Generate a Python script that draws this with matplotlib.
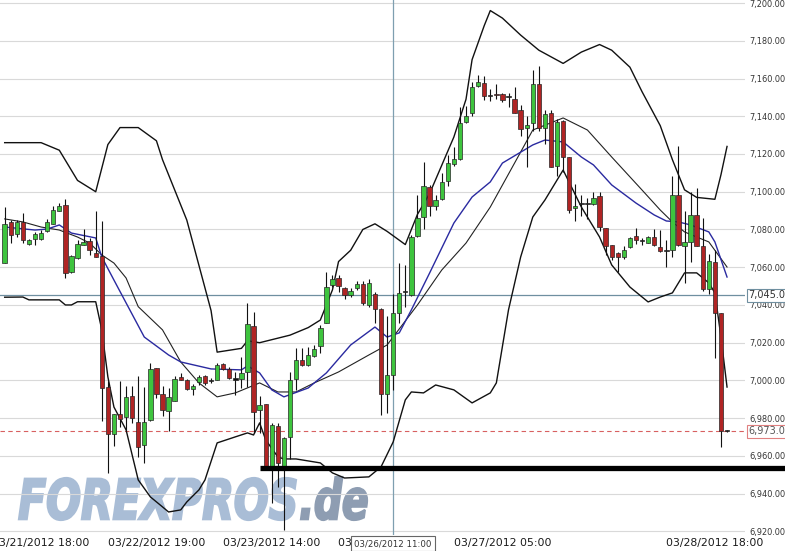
import numpy as np
import matplotlib
matplotlib.use("Agg")
import matplotlib.pyplot as plt
from matplotlib.textpath import TextPath
from matplotlib.patches import PathPatch
from matplotlib.font_manager import FontProperties
from matplotlib.transforms import Affine2D

# hourly candles (index 0..119)
opens = [7062, 7084, 7077.5, 7084, 7072.5, 7075, 7075, 7079, 7083, 7090,
         7093, 7057.5, 7065, 7072, 7074, 7067.5, 7066, 6996.5, 6971.5, 6982,
         6980.5, 6991.5, 6978, 6966, 6979, 7006.5, 6993, 6984, 6989, 7002,
         7000.5, 6995.5, 6999, 7002.5, 6999.5, 7000, 7008.5, 7006, 7000.5, 7001,
         7004.5, 7029, 6984.5, 6987.5, 6954.5, 6976, 6954.5, 6970, 7001, 7011,
         7008, 7013, 7018, 7030.5, 7050.5, 7054.5, 7049, 7045.5, 7049, 7051,
         7040, 7046, 7038, 6993, 7003, 7036, 7047, 7045.5, 7076.5, 7086.5,
         7102.5, 7092.5, 7096, 7105.5, 7114.5, 7117.5, 7137, 7141.5, 7156, 7157.5,
         7150.5, 7151.5, 7152, 7150, 7149, 7143.5, 7134, 7136.5, 7157, 7134,
         7141.5, 7113.5, 7137.5, 7118.5, 7091.5, 7093.5, 7093.5, 7093.5, 7097.5, 7081,
         7072, 7067.5, 7065.5, 7070.5, 7076.5, 7074, 7073, 7076, 7070.5, 7068.5,
         7069, 7098.5, 7071, 7073.5, 7087.5, 7071, 7048.5, 7062.5, 7035.5, 6973]
highs = [7092, 7085, 7085, 7088.5, 7075, 7078.5, 7079.5, 7085.5, 7092.5, 7094,
         7096, 7066.5, 7074.5, 7080, 7075.5, 7090, 7084.5, 6999.5, 6982, 6999.5,
         6997, 6997, 7002.5, 6996.5, 7009.5, 7006.5, 6997, 6996, 7002.5, 7004,
         7001, 6998, 7003, 7003, 7001.5, 7009, 7009, 7007, 7004.5, 7012.5,
         7041, 7036.5, 6991.5, 6987.5, 6977.5, 6977.5, 6970, 7004.5, 7017, 7017,
         7017.5, 7019, 7029.5, 7057.5, 7056, 7056, 7049.5, 7049, 7052.5, 7052.5,
         7054, 7047, 7038.5, 7034, 7046, 7062, 7061, 7077, 7098.5, 7116,
         7103.5, 7098.5, 7110, 7119.5, 7123.5, 7145, 7145.5, 7158, 7162, 7161.5,
         7154.5, 7157, 7152.5, 7152.5, 7155.5, 7146, 7140, 7164.5, 7166.5, 7143.5,
         7143.5, 7138.5, 7138, 7118.5, 7104, 7098.5, 7096.5, 7100, 7100, 7081,
         7072, 7068, 7071, 7076, 7081, 7075.5, 7076.5, 7080.5, 7079.5, 7074.5,
         7108.5, 7124, 7090, 7100, 7102, 7086, 7067, 7069, 7035.5, 6973.5]
lows = [7062, 7073, 7076, 7073, 7072, 7072, 7074.5, 7078.5, 7083, 7090,
        7054.5, 7057, 7064.5, 7072, 7066.5, 7065.5, 6978.5, 6951, 6965.5, 6975.5,
        6973, 6977.5, 6959.5, 6956, 6978.5, 6990.5, 6981, 6973, 6989, 7000,
        6995, 6992.5, 6997.5, 6997.5, 6998.5, 7000, 7005.5, 7001, 6992.5, 6996,
        6996.5, 6972, 6972, 6953, 6935, 6943.5, 6921, 6958.5, 6995, 7007.5,
        7007.5, 7012.5, 7014.5, 7030.5, 7049.5, 7047, 7043, 7044, 7048, 7040,
        7039, 7030.5, 6981.5, 6982.5, 6995, 7030.5, 7039, 7044.5, 7076, 7080.5,
        7087, 7090.5, 7095.5, 7103, 7113.5, 7117, 7136.5, 7140, 7155.5, 7148.5,
        7148, 7149, 7147.5, 7145, 7141.5, 7129.5, 7113, 7132, 7132, 7125.5,
        7113, 7108.5, 7110.5, 7088.5, 7084.5, 7087, 7085.5, 7093, 7079, 7066.5,
        7064, 7057.5, 7064.5, 7070, 7072.5, 7072, 7073, 7071.5, 7068, 7060,
        7065.5, 7071, 7051.5, 7063, 7071, 7047.5, 7046, 7012, 6964.5, 6972.5]
closes = [7083, 7077, 7084, 7074.5, 7074.5, 7077.5, 7078, 7084, 7090.5, 7092.5,
          7057, 7066, 7072.5, 7073.5, 7069, 7065.5, 6996, 6971.5, 6982, 6979.5,
          6991, 6980, 6964.5, 6978, 7006, 6993, 6984.5, 6991, 7001, 7000.5,
          6995.5, 6997, 7002, 6998.5, 6999.5, 7008, 7006, 7001.5, 7000.5, 7004,
          7030, 6983.5, 6987, 6954.5, 6976.5, 6956, 6969.5, 7000, 7011, 7008,
          7013.5, 7016.5, 7028, 7049.5, 7054, 7050, 7045.5, 7047.5, 7051, 7041,
          7051.5, 7038, 6993, 7003, 7036, 7046.5, 7047, 7076, 7086, 7103,
          7092.5, 7095.5, 7105, 7115, 7117.5, 7136.5, 7140, 7155.5, 7158, 7150.5,
          7150.5, 7151, 7148.5, 7150, 7141.5, 7133.5, 7135.5, 7157, 7134, 7141,
          7113, 7137, 7118.5, 7090.5, 7092.5, 7093.5, 7093.5, 7096.5, 7081.5, 7071,
          7065.5, 7065.5, 7069, 7075.5, 7074.5, 7074, 7076, 7072, 7068.5, 7068.5,
          7098.5, 7072, 7073.5, 7087.5, 7071, 7048.5, 7063.5, 7036, 6973, 6973]

# bollinger bands and averages, read at candle indices
upper_idx = [0, 6, 9, 12, 15, 17, 19, 22, 25, 26, 28, 30, 32, 34, 35, 39, 40, 42, 47, 50,
             52, 54, 55, 57, 59, 61, 63, 66, 68, 70, 72, 74, 76, 77, 79, 80, 82, 85, 88, 92,
             95, 98, 100, 103, 105, 108, 110, 112, 114, 117, 118, 119]
upper_val = [7126, 7126, 7122, 7106, 7100, 7125, 7134, 7134, 7127, 7117, 7101, 7085, 7061, 7037, 7015, 7017, 7021, 7020, 7024, 7028,
             7032, 7048, 7063, 7069, 7080, 7083, 7079, 7072, 7088, 7099, 7114, 7129, 7149, 7170, 7188, 7196, 7192, 7183, 7175, 7168,
             7174, 7178, 7175, 7166, 7153, 7135, 7117, 7101, 7097, 7096, 7109, 7124]

lower_idx = [0, 3, 4, 9, 10, 11, 12, 15, 16, 17, 18, 20, 22, 24, 26, 27, 29, 30, 32, 33,
             35, 38, 40, 41, 42, 43, 45, 46, 48, 52, 54, 56, 60, 62, 64, 66, 67, 69, 71, 74,
             77, 80, 81, 83, 85, 87, 89, 92, 95, 98, 100, 103, 106, 108, 110, 112, 114, 116, 117, 118, 119]
lower_val = [7044.1, 7044.2, 7042.7, 7042.7, 7040.0, 7040.0, 7041.7, 7041.7, 7026.8, 7001.9,
             6985.9, 6973.8, 6947.3, 6938.3, 6933.0, 6930.3, 6931.4, 6935.6, 6942.0, 6947.3,
             6966.9, 6970.1, 6972.2, 6971.1, 6977.5, 6968.5, 6959.5, 6958.4, 6958.4, 6956.3,
             6951.0, 6948.3, 6948.9, 6954.2, 6967.4, 6989.7, 6993.9, 6993.4, 6997.6, 6995.0,
             6988.1, 6993.4, 6998.7, 7037.4, 7065.4, 7086.6, 7095.6, 7111.5, 7091.9, 7076.0,
             7061.2, 7049.5, 7041.6, 7044.2, 7046.4, 7057.0, 7057.0, 7051.7, 7046.4, 7023.0, 6996.5]

mid_idx = [0, 3, 6, 9, 12, 14, 16, 18, 20, 22, 26, 29, 32, 35, 38, 42, 45, 48, 51, 55,
           60, 63, 68, 72, 76, 80, 84, 87, 92, 96, 100, 105, 108, 110, 112, 114, 116, 119]
mid_val = [7085.6, 7084.0, 7081.3, 7079.7, 7076.0, 7072.8, 7066.5, 7062.2, 7054.3, 7039.1,
           7026.8, 7009.8, 6998.7, 6991.3, 6993.4, 6998.7, 6993.9, 6993.9, 6998.7, 7004.5,
           7013.5, 7018.8, 7040.0, 7058.5, 7072.8, 7091.9, 7115.2, 7132.7, 7139.1, 7132.7,
           7118.4, 7100.9, 7090.3, 7084.0, 7078.7, 7076.0, 7073.4, 7060.1]

blue_idx = [0, 5, 7, 9, 11, 15, 16, 18, 20, 23, 27, 29, 34, 39, 40, 42, 44, 46, 50, 53,
            57, 61, 63, 65, 67, 70, 74, 77, 80, 82, 87, 89, 92, 95, 97, 100, 104, 107, 109, 111,
            113, 116, 117, 119]
blue_val = [7081.3, 7079.7, 7080.2, 7082.4, 7078.1, 7075.5, 7065.4, 7053.2, 7041.1, 7023.0,
            7013.5, 7009.8, 7006.1, 7005.6, 7007.7, 7004.0, 6995.0, 6991.3, 6996.0, 7004.0,
            7018.8, 7028.3, 7023.0, 7025.2, 7037.4, 7056.9, 7083.4, 7097.2, 7105.2, 7115.2,
            7124.8, 7127.4, 7126.4, 7118.4, 7114.2, 7103.6, 7094.0, 7087.7, 7084.5, 7084.0,
            7082.4, 7078.7, 7073.4, 7054.8]

tick_pos = [6, 25, 44, 63, 82, 117]
tick_labels = ["03/21/2012 18:00", "03/22/2012 19:00", "03/23/2012 14:00",
               "03/26/2012 10:00", "03/27/2012 05:00", "03/28/2012 18:00"]

y_ticks = list(range(6920, 7201, 20))
last_price = 6973.00
ref_price = 7045.06
support = 6953.6
support_start = 42
cross_idx = 64
cross_label = "03/26/2012 11:00"

GREEN = "#3ec43e"
RED = "#b02424"
EDGE = "#262626"
GRID = "#d9d9d9"
STEEL = "#6f8fa0"

W, H = 785, 551
fig = plt.figure(figsize=(W / 100, H / 100), dpi=100)
fig.set_facecolor("white")
ax = fig.add_axes([0, 16 / H, 745 / W, 535 / H])
ax.set_facecolor("white")

o = np.array(opens)
h = np.array(highs)
l = np.array(lows)
c = np.array(closes)
x = np.arange(len(o))

# watermark, squeezed into its box (pixel coords from top-left)
logo_font = FontProperties(family="DejaVu Sans", weight="bold", style="italic")


def logo(txt, px0, px1, py_top, py_bot, color):
    tp = TextPath((0, 0), txt, size=50, prop=logo_font)
    ext = tp.get_extents()
    sx = (px1 - px0) / W / ext.width
    sy = (py_bot - py_top) / H / ext.height
    tr = (Affine2D().translate(-ext.x0, -ext.y0).scale(sx, sy)
          .translate(px0 / W, (H - py_bot) / H) + fig.transFigure)
    ax.add_patch(PathPatch(tp, fc=color, ec=color, lw=1.6, transform=tr,
                           zorder=0, clip_on=False))


logo("FOREXPROS", 19, 296, 478, 520, "#a9bdd6")
logo(".de", 301, 367, 477, 520, "#8e9db2")

for v in y_ticks:
    ax.axhline(v, color=GRID, lw=0.8, zorder=0.5)

ax.axhline(ref_price, color=STEEL, lw=0.9, zorder=1)
ax.axhline(last_price, color="#d86060", lw=0.8, ls=(0, (4, 3)), zorder=1)
ax.axvline(cross_idx, color="#7e9fb0", lw=0.9, zorder=1)

ax.plot(upper_idx, upper_val, color="#111111", lw=1.0, zorder=1.5)
ax.plot(lower_idx, lower_val, color="#111111", lw=1.0, zorder=1.5)
ax.plot(mid_idx, mid_val, color="#222222", lw=0.8, zorder=1.5)
ax.plot(blue_idx, blue_val, color="#2a2aa0", lw=1.0, zorder=1.6)

# candles
ax.vlines(x, l, h, color="#111111", lw=0.8, zorder=2)
body_lo = np.minimum(o, c)
body_h = np.maximum(np.abs(c - o), 0.6)
colors = [GREEN if cc > oo else (RED if cc < oo else "#111111") for oo, cc in zip(o, c)]
ax.bar(x, body_h, bottom=body_lo, width=0.72, color=colors, edgecolor=EDGE,
       linewidth=0.5, zorder=3)

# drawn support line
ax.plot([support_start, 130], [support, support], color="black", lw=3.8,
        solid_capstyle="butt", clip_on=False, zorder=4)

ax.set_xlim(-0.77, 121.96)
ax.set_ylim(6918.1, 7201.6)

ax.yaxis.tick_right()
ax.set_yticks(y_ticks)
ax.set_yticklabels([f"{v:,.2f}" for v in y_ticks], fontsize=5.9, color="#333333")
ax.tick_params(axis="y", length=0, pad=3)
ax.set_xticks(tick_pos)
ax.set_xticklabels(tick_labels, fontsize=7.8, color="#1a1a1a")
ax.tick_params(axis="x", length=0, pad=2)
for s in ax.spines.values():
    s.set_visible(False)

# price tags on the right
ax.text(1.004, ref_price, f"{ref_price:,.2f}", transform=ax.get_yaxis_transform(),
        fontsize=7.0, color="#333333", va="center", ha="left", zorder=5,
        bbox=dict(boxstyle="square,pad=0.15", fc="white", ec=STEEL, lw=0.8))
ax.text(1.004, last_price, f"{last_price:,.2f}", transform=ax.get_yaxis_transform(),
        fontsize=7.0, color="#555555", va="center", ha="left", zorder=5,
        bbox=dict(boxstyle="square,pad=0.15", fc="white", ec="#e08080", lw=0.8))

# crosshair date tag
ax.text(cross_idx, -0.016, cross_label, transform=ax.get_xaxis_transform(),
        fontsize=6.2, color="#333333", va="center", ha="center", zorder=6,
        bbox=dict(boxstyle="square,pad=0.35", fc="white", ec="#666666", lw=0.8))

fig.savefig("out.png", dpi=100, facecolor="white")
